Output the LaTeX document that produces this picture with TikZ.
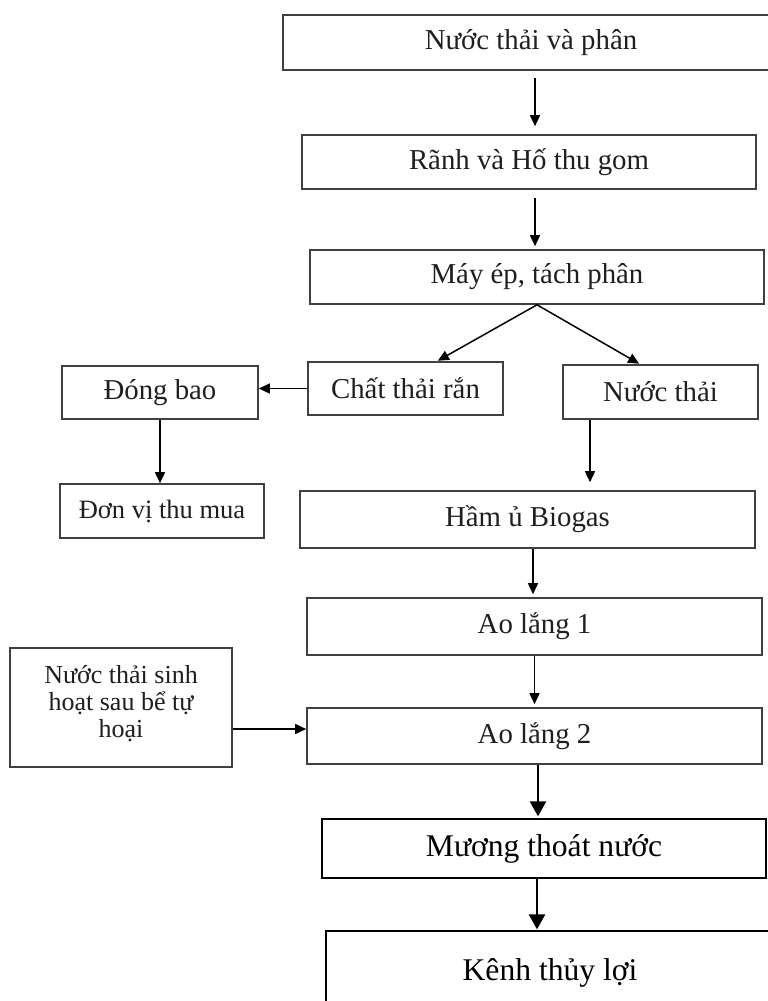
\documentclass[tikz,border=0pt]{standalone}
\usepackage{fontspec}
\setmainfont{Liberation Serif}
\usetikzlibrary{arrows.meta}
\tikzset{
  gbox/.style={draw=black!75, line width=1.6pt, inner sep=0pt, align=center, text=black!88,
    font=\fontsize{28.8}{31}\selectfont},
  kbox/.style={draw=black, line width=1.2pt, inner sep=0pt, align=center, text=black,
    font=\fontsize{31.6}{34}\selectfont},
  arr/.style={draw=black, line width=1.5pt, -{Triangle[length=11pt,width=10pt]}},
  barr/.style={draw=black, line width=2.4pt, -{Triangle[length=15pt,width=16pt]}}
}
\begin{document}
\begin{tikzpicture}[x=1pt,y=-1pt]
\useasboundingbox (0,0) rectangle (768,1001);
\clip (0,0) rectangle (768,1001);
\fill[white] (0,0) rectangle (768,1001);

\node[gbox, minimum width=496pt, minimum height=55pt] (b1) at (531,42.5) {Nước thải và phân};
\node[gbox, minimum width=454pt, minimum height=54pt] (b2) at (529,162) {Rãnh và Hố thu gom};
\node[gbox, minimum width=454pt, minimum height=54pt] (b3) at (537,277) {Máy ép, tách phân};
\node[gbox, minimum width=195pt, minimum height=53pt] (cr) at (405.5,388.5) {Chất thải rắn};
\node[gbox, minimum width=195pt, minimum height=54pt] (nt) at (660.5,392) {Nước thải};
\node[gbox, minimum width=196pt, minimum height=53pt] (db) at (160,392.5) {Đóng bao};
\node[gbox, minimum width=204pt, minimum height=54pt, font=\fontsize{26.5}{29}\selectfont] (dv) at (162,511) {Đơn vị thu mua};
\node[gbox, minimum width=455pt, minimum height=57pt] (hb) at (527.5,519.5) {Hầm ủ Biogas};
\node[gbox, minimum width=455pt, minimum height=57pt] (a1) at (534.5,626.5) {Ao lắng 1};
\node[gbox, minimum width=455pt, minimum height=56pt] (a2) at (534.5,736) {Ao lắng 2};
\node[gbox, minimum width=222pt, minimum height=119pt] (ns) at (121,707.5) {};
\node[gbox, draw=none, font=\fontsize{26}{27}\selectfont] (nst) at ([yshift=4pt]ns.center) {Nước thải sinh\\hoạt sau bể tự\\hoại};
\node[kbox, minimum width=444pt, minimum height=59pt] (mg) at (544,848.5) {Mương thoát nước};
\node[kbox, minimum width=448pt, minimum height=84pt] (kt) at (550,973) {Kênh thủy lợi};

\coordinate (b1b) at ([xshift=4pt]b1.south);
\draw[arr, shorten <=7pt, shorten >=8pt] (b1b) -- (b1b |- b2.north);
\coordinate (b2b) at ([xshift=6pt]b2.south);
\draw[arr, shorten <=8pt, shorten >=3pt] (b2b) -- (b2b |- b3.north);
\draw[arr, shorten >=1pt] (b3.south) -- ([xshift=31.5pt]cr.north);
\draw[arr, shorten >=1pt] (b3.south) -- ([xshift=-20.5pt]nt.north);
\draw[arr] (cr.west) -- (cr.west -| db.east);
\draw[arr] (db.south) -- (db.south |- dv.north);
\coordinate (ntb) at ([xshift=-70.5pt]nt.south);
\draw[arr, shorten >=8pt] (ntb) -- (ntb |- hb.north);
\coordinate (hbb) at ([xshift=5.5pt]hb.south);
\draw[arr, shorten >=3pt] (hbb) -- (hbb |- a1.north);
\draw[arr, shorten >=3pt] (a1.south) -- (a1.south |- a2.north);
\coordinate (nse) at ([yshift=-21.5pt]ns.east);
\draw[arr] (nse) -- (nse -| a2.west);
\coordinate (a2b) at ([xshift=3.5pt]a2.south);
\draw[barr, shorten >=2pt] (a2b) -- (a2b |- mg.north);
\coordinate (mgb) at ([xshift=-7pt]mg.south);
\draw[barr, shorten >=1pt] (mgb) -- (mgb |- kt.north);
\end{tikzpicture}
\end{document}
